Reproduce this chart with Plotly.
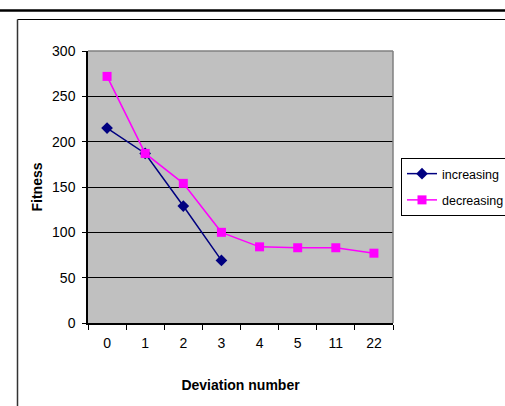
import plotly.graph_objects as go

# Fitness per deviation number for the two orderings
deviation_numbers = ["0", "1", "2", "3", "4", "5", "11", "22"]
increasing_fitness = [215, 187, 129, 69, None, None, None, None]
decreasing_fitness = [272, 187, 154, 100, 84, 83, 83, 77]
y_ticks = [0, 50, 100, 150, 200, 250, 300]

W, H = 505, 406
L, R, T, B = 88, 393, 51, 323  # plot area in pixels


def px_x(x):
    return (x - L) / (R - L)


def px_y(y):
    return (B - y) / (B - T)


FONT = "Liberation Sans, Arial, sans-serif"

fig = go.Figure()
fig.add_trace(go.Scatter(
    x=deviation_numbers, y=increasing_fitness, name="increasing",
    legendgroup="inc", mode="lines+markers",
    line=dict(color="#000080", width=1.5),
    marker=dict(symbol="diamond", size=9, color="#000080"),
))
fig.add_trace(go.Scatter(
    x=deviation_numbers, y=decreasing_fitness, name="decreasing",
    legendgroup="dec", mode="lines+markers",
    line=dict(color="#FF00FF", width=1.5),
    marker=dict(symbol="square", size=9, color="#FF00FF"),
))

shapes = [
    # heavy rule across the top of the page
    dict(type="line", xref="paper", yref="paper",
         x0=px_x(-5), x1=px_x(W + 5), y0=px_y(10.5), y1=px_y(10.5),
         line=dict(color="black", width=2.5)),
    # chart frame (left and top edges visible)
    dict(type="line", xref="paper", yref="paper",
         x0=px_x(17.5), x1=px_x(W + 5), y0=px_y(19.5), y1=px_y(19.5),
         line=dict(color="black", width=1.2)),
    dict(type="line", xref="paper", yref="paper",
         x0=px_x(17.5), x1=px_x(17.5), y0=px_y(19.5), y1=px_y(H + 5),
         line=dict(color="#333333", width=1.5)),
    # plot area border, top and right in grey
    dict(type="line", xref="paper", yref="paper", layer="above",
         x0=0, x1=1, y0=1, y1=1, line=dict(color="#808080", width=1.5)),
    dict(type="line", xref="paper", yref="paper", layer="above",
         x0=1, x1=1, y0=0, y1=1, line=dict(color="#808080", width=1.5)),
]

fig.update_layout(
    width=W, height=H,
    margin=dict(l=L, r=W - R, t=T, b=H - B, autoexpand=False),
    paper_bgcolor="white",
    plot_bgcolor="#C0C0C0",
    font=dict(family=FONT, size=14, color="black"),
    shapes=shapes,
    showlegend=True,
    legend=dict(
        x=px_x(401), y=px_y(158), xanchor="left", yanchor="top",
        bordercolor="black", borderwidth=1, bgcolor="white",
        font=dict(family=FONT, size=12.5, color="black"),
        itemwidth=30, traceorder="grouped", tracegroupgap=7,
    ),
    xaxis=dict(
        type="category", categoryorder="array", categoryarray=deviation_numbers,
        range=[-0.5, 7.5],
        showline=True, linecolor="black", linewidth=1.5,
        ticks="outside", tickson="boundaries", ticklen=5, tickcolor="black",
        ticklabelstandoff=6,
        showgrid=False, zeroline=False,
        title=dict(text="<b>Deviation number</b>", standoff=31,
                   font=dict(family=FONT, size=14)),
    ),
    yaxis=dict(
        range=[0, 300], tickvals=y_ticks,
        showline=True, linecolor="black", linewidth=1.5,
        ticks="outside", ticklen=4, tickcolor="black",
        ticklabelstandoff=4,
        showgrid=True, gridcolor="black", gridwidth=1.2,
        zeroline=False,
        title=dict(text="<b>Fitness</b>", standoff=6,
                   font=dict(family=FONT, size=14)),
    ),
)

fig.write_html("out.html")
